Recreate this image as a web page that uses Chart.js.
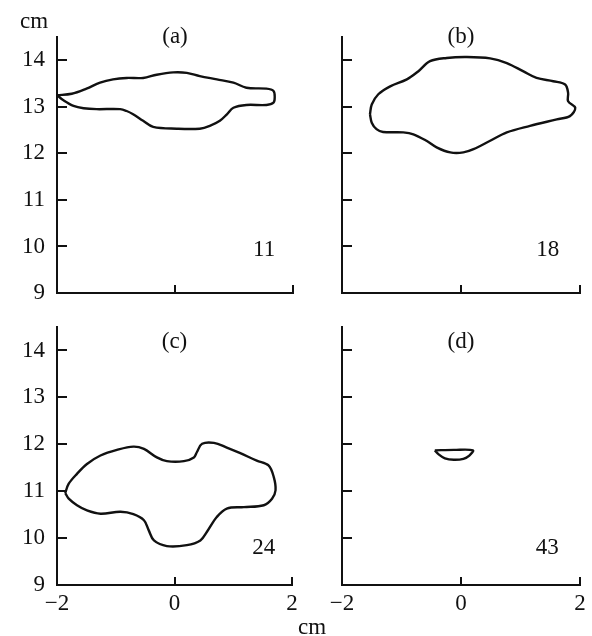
<!DOCTYPE html>
<html>
<head>
<meta charset="utf-8">
<script src="https://cdn.jsdelivr.net/npm/chart.js@4.4.1/dist/chart.umd.min.js"></script>
<style>
  html, body { margin: 0; padding: 0; background: #fff; }
  #wrap { position: relative; width: 592px; height: 636px; }
  #wrap canvas { position: absolute; left: 0; top: 0; }
</style>
</head>
<body>
<div id="wrap">
  <canvas id="pa" width="592" height="636"></canvas>
  <canvas id="pb" width="592" height="636"></canvas>
  <canvas id="pc" width="592" height="636"></canvas>
  <canvas id="pd" width="592" height="636"></canvas>
</div>
<script>
const yTicks = [9, 10, 11, 12, 13, 14];
const xTicks = [-2, 0, 2];
const panelNames = ['(a)', '(b)', '(c)', '(d)'];
const panelCounts = ['11', '18', '24', '43'];

// outline (a), traced clockwise from the left tip
const contourAX = [-2.0, -1.75, -1.50, -1.27, -1.05, -0.82, -0.54, -0.31, -0.03, 0.20, 0.42, 0.71, 0.99, 1.21, 1.55, 1.67, 1.69, 1.67, 1.55, 1.21, 0.99, 0.88, 0.76, 0.59, 0.42, 0.03, -0.37, -0.54, -0.71, -0.82, -0.93, -1.33, -1.55, -1.72, -1.89];
const contourAY = [13.25, 13.28, 13.39, 13.52, 13.59, 13.62, 13.62, 13.69, 13.74, 13.73, 13.66, 13.59, 13.52, 13.41, 13.39, 13.34, 13.20, 13.09, 13.04, 13.04, 12.98, 12.84, 12.70, 12.59, 12.53, 12.53, 12.57, 12.70, 12.84, 12.91, 12.95, 12.95, 12.97, 13.02, 13.14];

// outline (b)
const contourBX = [-1.53, -1.50, -1.39, -1.19, -0.91, -0.72, -0.52, -0.24, 0.10, 0.49, 0.77, 1.05, 1.27, 1.55, 1.75, 1.80, 1.80, 1.92, 1.83, 1.61, 1.16, 0.77, 0.49, 0.21, 0.04, -0.18, -0.41, -0.58, -0.80, -0.97, -1.31, -1.42, -1.50];
const contourBY = [12.84, 13.05, 13.27, 13.44, 13.59, 13.76, 13.98, 14.05, 14.07, 14.04, 13.94, 13.76, 13.62, 13.55, 13.48, 13.30, 13.12, 12.98, 12.80, 12.73, 12.59, 12.45, 12.27, 12.09, 12.02, 12.02, 12.13, 12.27, 12.41, 12.45, 12.46, 12.52, 12.66];

// outline (c)
const contourCX = [-1.86, -1.80, -1.66, -1.49, -1.26, -0.98, -0.70, -0.52, -0.30, -0.13, 0.16, 0.33, 0.38, 0.47, 0.67, 0.89, 1.12, 1.40, 1.60, 1.69, 1.72, 1.66, 1.52, 1.18, 0.89, 0.72, 0.55, 0.44, 0.21, -0.13, -0.35, -0.44, -0.52, -0.70, -0.92, -1.26, -1.49, -1.66, -1.80];
const contourCY = [10.96, 11.16, 11.37, 11.58, 11.76, 11.88, 11.95, 11.90, 11.72, 11.64, 11.64, 11.72, 11.83, 12.01, 12.03, 11.93, 11.81, 11.65, 11.55, 11.30, 11.02, 10.84, 10.70, 10.66, 10.63, 10.45, 10.13, 9.95, 9.85, 9.83, 9.95, 10.17, 10.38, 10.51, 10.56, 10.52, 10.59, 10.70, 10.84];

// outline (d)
const contourDX = [-0.44, -0.12, 0.20, 0.14, 0.04, -0.12, -0.27, -0.38];
const contourDY = [11.87, 11.88, 11.87, 11.76, 11.69, 11.67, 11.70, 11.79];

const ink = '#111';
const serif = { family: '"Liberation Serif", "Times New Roman", serif', size: 23 };

function closedPoints(xs, ys) {
  const pts = xs.map((x, i) => ({ x: x, y: ys[i] }));
  pts.push(pts[0]);
  return pts;
}

function minusSign(v) {
  return v < 0 ? '\u2212' + Math.abs(v) : String(v);
}

// inward tick marks plus the panel captions
const axisMarks = {
  id: 'axisMarks',
  afterDraw(chart, args, opts) {
    const { ctx, chartArea: a, scales: { x, y } } = chart;
    ctx.save();
    ctx.strokeStyle = ink;
    ctx.lineWidth = 2;
    ctx.beginPath();
    yTicks.forEach(v => {
      if (v === y.min) return;
      const py = Math.round(y.getPixelForValue(v));
      ctx.moveTo(a.left, py);
      ctx.lineTo(a.left + 10, py);
    });
    xTicks.forEach(v => {
      if (v === x.min) return;
      const px = Math.round(x.getPixelForValue(v));
      ctx.moveTo(px, a.bottom);
      ctx.lineTo(px, a.bottom - 8);
    });
    ctx.stroke();

    ctx.fillStyle = ink;
    ctx.font = serif.size + 'px ' + serif.family;
    ctx.textAlign = 'center';
    ctx.textBaseline = 'middle';
    ctx.fillText(opts.title, x.getPixelForValue(opts.titleAt[0]), y.getPixelForValue(opts.titleAt[1]));
    ctx.fillText(opts.count, x.getPixelForValue(opts.countAt[0]), y.getPixelForValue(opts.countAt[1]));
    if (opts.unitTop) ctx.fillText('cm', a.left - 23, a.top - 15);
    if (opts.unitRight) ctx.fillText('cm', a.right + 20, a.bottom + 43);
    ctx.restore();
  }
};

const panels = [
  { id: 'pa', xs: contourAX, ys: contourAY, area: { left: 57, top: 37, right: 293, bottom: 293 },
    showY: true, showX: false, titleAt: [0, 14.5], countAt: [1.51, 9.92], unitTop: true },
  { id: 'pb', xs: contourBX, ys: contourBY, area: { left: 342, top: 37, right: 580, bottom: 293 },
    showY: false, showX: false, titleAt: [0, 14.5], countAt: [1.46, 9.92] },
  { id: 'pc', xs: contourCX, ys: contourCY, area: { left: 57, top: 327, right: 292, bottom: 585 },
    showY: true, showX: true, titleAt: [0, 14.18], countAt: [1.52, 9.79], unitRight: true },
  { id: 'pd', xs: contourDX, ys: contourDY, area: { left: 342, top: 327, right: 580, bottom: 585 },
    showY: false, showX: true, titleAt: [0, 14.18], countAt: [1.45, 9.79] }
];

panels.forEach((p, i) => {
  const yW = p.showY ? 50 : 0;
  const xH = p.showX ? 34 : 0;
  new Chart(document.getElementById(p.id), {
    type: 'scatter',
    data: {
      datasets: [{
        data: closedPoints(p.xs, p.ys),
        showLine: true,
        borderColor: ink,
        borderWidth: 2.4,
        pointRadius: 0,
        tension: 0.35,
        clip: false
      }]
    },
    options: {
      responsive: false,
      animation: false,
      events: [],
      layout: {
        padding: {
          left: p.area.left - yW,
          top: p.area.top,
          right: 592 - p.area.right,
          bottom: 636 - p.area.bottom - xH
        }
      },
      plugins: {
        legend: { display: false },
        tooltip: { enabled: false },
        axisMarks: {
          title: panelNames[i],
          count: panelCounts[i],
          titleAt: p.titleAt,
          countAt: p.countAt,
          unitTop: !!p.unitTop,
          unitRight: !!p.unitRight
        }
      },
      scales: {
        x: {
          type: 'linear',
          min: -2,
          max: 2,
          afterBuildTicks: s => { s.ticks = xTicks.map(v => ({ value: v })); },
          afterFit: s => { s.height = xH; },
          grid: { display: false, drawTicks: false },
          border: { color: ink, width: 2 },
          ticks: { display: p.showX, font: serif, color: ink, padding: 5, maxRotation: 0, callback: minusSign }
        },
        y: {
          type: 'linear',
          min: 9,
          max: 14.5,
          afterBuildTicks: s => { s.ticks = yTicks.map(v => ({ value: v })); },
          afterFit: s => { s.width = yW; },
          grid: { display: false, drawTicks: false },
          border: { color: ink, width: 2 },
          ticks: { display: p.showY, font: serif, color: ink, padding: 12, callback: minusSign }
        }
      }
    },
    plugins: [axisMarks]
  });
});
</script>
</body>
</html>
